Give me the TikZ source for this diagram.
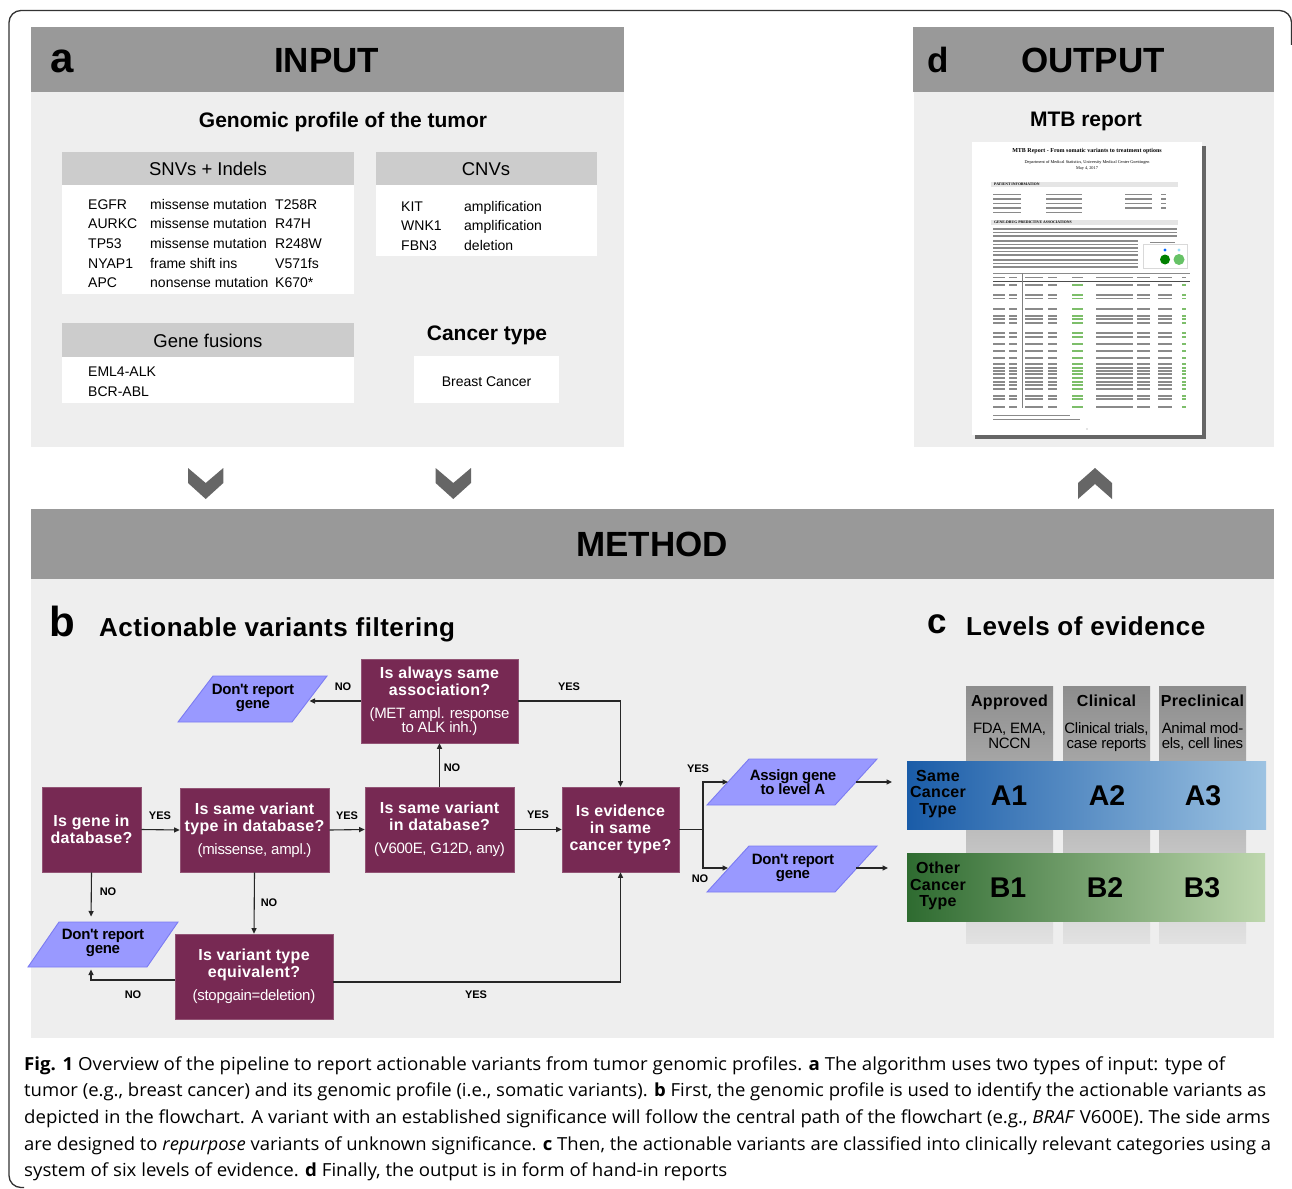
\documentclass[tikz,border=0pt]{standalone}
\usepackage{fontspec}
\usepackage{graphicx}
\setmainfont{Liberation Sans}
\newfontfamily\capfont{Open Sans}
\newfontfamily\thumbfont{Liberation Serif}
\newfontfamily\wfont[LetterSpace=2]{Liberation Sans}
\newfontfamily\tfont[LetterSpace=-2]{Liberation Sans}
\usetikzlibrary{arrows.meta}
\newcommand{\fsz}[1]{\fontsize{#1}{#1}\selectfont}
\newcommand{\pn}{\tfont\mdseries\fontsize{15}{17}\selectfont}
\definecolor{hdrg}{HTML}{999999}
\definecolor{bodyg}{HTML}{EEEEEE}
\definecolor{subh}{HTML}{CCCCCC}
\definecolor{qcol}{HTML}{772953}
\definecolor{pcol}{HTML}{9999FF}
\definecolor{pbd}{HTML}{7B7BF2}
\definecolor{chev}{HTML}{666666}
\definecolor{blueL}{HTML}{1A5CA8}
\definecolor{blueR}{HTML}{9DC3E2}
\definecolor{greenL}{HTML}{2E6B30}
\definecolor{greenR}{HTML}{BED7AE}
\definecolor{colT}{HTML}{8D8D8D}
\definecolor{colB}{HTML}{E2E2E2}
\definecolor{thumbtx}{HTML}{8A8A8A}
\definecolor{thumbgr}{HTML}{7DBE6A}
\begin{document}
\begin{tikzpicture}[x=1pt,y=-1pt,
  qbox/.style={fill=qcol, draw=qcol!80!white, line width=0.6, text=white, align=center, inner sep=0,
    font=\wfont\bfseries\fontsize{16}{17}\selectfont},
  ptext/.style={align=center, inner sep=0, text=black, font=\tfont\bfseries\fontsize{15}{14.5}\selectfont},
  para/.style={fill=pcol, draw=pbd, line width=0.9},
  conn/.style={draw=black!85, line width=1.1, -{Triangle[length=5.5pt,width=5pt]}},
  plain/.style={draw=black!85, line width=1.1},
  lbl/.style={font=\bfseries\fsz{11}, inner sep=0},
  tabtx/.style={font=\fsz{14}, anchor=base west, inner sep=0},
  colhd/.style={font=\wfont\bfseries\fsz{16}, anchor=base, inner sep=0},
  colsub/.style={font=\tfont\fontsize{15}{14.5}\selectfont, align=center, anchor=base, inner sep=0},
  band/.style={font=\wfont\bfseries\fontsize{16}{16.7}\selectfont, align=center, inner sep=0},
  lvl/.style={font=\bfseries\fsz{28.5}, anchor=base, inner sep=0},
  tl/.style={draw=thumbtx, line width=1.1},
  tg/.style={draw=thumbgr, line width=1.1},
  capline/.style={anchor=base west, inner sep=0, font=\capfont\fsz{18}}
]
\useasboundingbox (0,0) rectangle (1292,1188);
\fill[white] (0,0) rectangle (1292,1188);
% outer frame
\draw[line width=1.3, draw=black!80, rounded corners=12] (1291.5,45) -- (1291.5,10.5) -- (9,10.5) -- (9,1187.5) -- (24,1187.5);

% ---------------- panel a ----------------
\fill[hdrg] (31,27) rectangle (624,92);
\fill[bodyg] (31,92) rectangle (623.5,446.5);
\node[font=\bfseries\fsz{42}, anchor=base, inner sep=0] (alab) at (62,73) {a};
\node[font=\bfseries\fsz{35}, anchor=base, inner sep=0] (inp) at (326.5,73) {INPUT};
\node[font=\bfseries\fsz{21}, anchor=base, inner sep=0] (gp) at (343,128) {Genomic profile of the tumor};

\fill[subh] (62,152) rectangle (354,185);
\fill[white] (62,185) rectangle (354,294);
\node[font=\fsz{18.5}, anchor=base, inner sep=0] (snvh) at (208,175.5) {SNVs + Indels};
\foreach \g/\t/\p [count=\i] in {EGFR/missense mutation/T258R, AURKC/missense mutation/R47H,
   TP53/missense mutation/R248W, NYAP1/frame shift ins/V571fs, APC/nonsense mutation/K670*}{
  \node[tabtx] (snvg\i) at (88,{209+19.7*(\i-1)}) {\g};
  \node[tabtx] (snvt\i) at (150,{209+19.7*(\i-1)}) {\t};
  \node[tabtx] (snvp\i) at (275,{209+19.7*(\i-1)}) {\p};
}
\fill[subh] (375.5,152) rectangle (597,185);
\fill[white] (375.5,185) rectangle (597,256);
\node[font=\fsz{18.5}, anchor=base, inner sep=0] (cnvh) at (486,175.5) {CNVs};
\foreach \g/\t [count=\i] in {KIT/amplification, WNK1/amplification, FBN3/deletion}{
  \node[tabtx] (cnvg\i) at (401,{211+19.8*(\i-1)}) {\g};
  \node[tabtx] (cnvt\i) at (464,{211+19.8*(\i-1)}) {\t};
}
\fill[subh] (62,323) rectangle (354,357);
\fill[white] (62,357) rectangle (354,403);
\node[font=\fsz{18.5}, anchor=base, inner sep=0] (gfh) at (208,347) {Gene fusions};
\node[tabtx] (gf1) at (88,376) {EML4-ALK};
\node[tabtx] (gf2) at (88,396) {BCR-ABL};
\node[font=\bfseries\fsz{21}, anchor=base, inner sep=0] (cth) at (487,340) {Cancer type};
\fill[white] (413.5,356) rectangle (559,403);
\node[font=\fsz{14}, anchor=base, inner sep=0] (bc) at (486.5,386) {Breast Cancer};

% ---------------- panel d ----------------
\fill[hdrg] (913,27) rectangle (1274,92);
\fill[bodyg] (914,92) rectangle (1274,446.5);
\node[font=\bfseries\fsz{35}, anchor=base, inner sep=0] (dlab) at (938,73) {d};
\node[font=\bfseries\fsz{35}, anchor=base, inner sep=0] (outp) at (1093,73) {OUTPUT};
\node[font=\bfseries\fsz{21}, anchor=base, inner sep=0] (mtb) at (1086,126) {MTB report};
% report thumbnail
\fill[black!60] (975,145.5) rectangle (1206,439);
\fill[white] (972,142) rectangle (1202,435);
\node[font=\thumbfont\bfseries\fsz{6}, inner sep=0] (mtbt) at (1087,151) {MTB Report - From somatic variants to treatment options};
\node[font=\thumbfont\fsz{4.3}, inner sep=0] (mtbd) at (1087,162) {Department of Medical Statistics, University Medical Center Goettingen};
\node[font=\thumbfont\fsz{4.3}, inner sep=0] (mtbm) at (1087,169) {May 4, 2017};
\fill[black!10] (991,181.5) rectangle (1178,187);
\node[font=\thumbfont\bfseries\fsz{3.8}, anchor=west, inner sep=0] (mtbpi) at (994,184.3) {PATIENT INFORMATION};
\foreach \yy in {194.5,199,203.5,208,212.5}{
  \draw[tl] (993,\yy) -- (1021,\yy);
  \draw[tl] (1046,\yy) -- (1082,\yy);
}
\foreach \yy in {194.5,199,203.5,208}{
  \draw[tl] (1125,\yy) -- (1152,\yy);
  \draw[tl] (1161,\yy) -- (1166,\yy);
}
\fill[black!10] (991,219.5) rectangle (1178,225);
\node[font=\thumbfont\bfseries\fsz{3.8}, anchor=west, inner sep=0] (mtbgd) at (994,222.3) {GENE-DRUG PREDICTIVE ASSOCIATIONS};
\foreach \yy in {229,232.5,236}{ \draw[tl] (993,\yy) -- (1177,\yy); }
\foreach \yy in {241,244.5,248,251.5,255}{ \draw[tl] (993,\yy) -- (1138,\yy); }
\foreach \yy in {260,263.5,267}{ \draw[tl] (993,\yy) -- (1138,\yy); }
\draw[black!15, fill=white] (1143,244) rectangle (1187,268);
\draw[tl, line width=0.6] (1150,242) -- (1175,242);
\fill[blue!60!cyan] (1165,250) circle (1.6);
\fill[cyan!40] (1179,250) circle (1.6);
\fill[green!50!black] (1165,259.5) circle (5);
\fill[green!60!black!60] (1179,259.5) circle (5.5);
\draw[tl, line width=0.6] (993,273.5) -- (1190,273.5);
\foreach \xa/\xb in {993/1005,1009/1017,1025/1043,1048/1057,1072/1083,1096/1133,1137/1150,1158/1172,1182/1186}{
  \draw[tl, line width=0.9] (\xa,277) -- (\xb,277);
}
\draw[black!70, line width=0.6] (993,281) -- (1190,281);
\draw[black!50, line width=0.5] (1022,273) -- (1022,408);
\foreach \yy in {285,295,298.7,309,316,319,323,333,337,344,351,358,364,368,371,374,378,382,385,389,396,399,407}{
  \draw[tl] (993,\yy) -- (1005,\yy);
  \draw[tl] (1009,\yy) -- (1017,\yy);
  \draw[tl] (1025,\yy) -- (1043,\yy);
  \draw[tl] (1048,\yy) -- (1057,\yy);
  \draw[tg] (1072,\yy) -- (1083,\yy);
  \draw[tl] (1096,\yy) -- (1133,\yy);
  \draw[tl] (1137,\yy) -- (1150,\yy);
  \draw[tl] (1158,\yy) -- (1172,\yy);
  \draw[tg] (1182,\yy) -- (1186,\yy);
}
\draw[tl, line width=0.8] (993,415.5) -- (1070,415.5);
\draw[tl, line width=0.8] (993,419.5) -- (1080,419.5);
\fill[thumbtx] (1087,429) circle (0.7);

% ---------------- chevrons ----------------
\fill[chev] (188,468) -- (205.7,483) -- (223.3,468) -- (223.3,483) -- (205.7,499) -- (188,483) -- cycle;
\fill[chev] (435.6,468) -- (453.3,483) -- (471,468) -- (471,483) -- (453.3,499) -- (435.6,483) -- cycle;
\fill[chev] (1078,483) -- (1095,468) -- (1112,483) -- (1112,499) -- (1095,484) -- (1078,499) -- cycle;

% ---------------- METHOD ----------------
\fill[hdrg] (31,509) rectangle (1274,579);
\fill[bodyg] (31,579) rectangle (1274,1038);
\node[font=\bfseries\fsz{35}, anchor=base, inner sep=0] (meth) at (652,556.5) {METHOD};
\node[font=\bfseries\fsz{42}, anchor=base, inner sep=0] (blab) at (62,636) {b};
\node[font=\wfont\bfseries\fsz{26}, anchor=base west, inner sep=0] (btitle) at (99,636) {Actionable variants filtering};
\node[font=\bfseries\fsz{35}, anchor=base, inner sep=0] (clab) at (937,633) {c};
\node[font=\wfont\bfseries\fsz{26}, anchor=base west, inner sep=0] (ctitle) at (966,635) {Levels of evidence};

% ---------------- flowchart ----------------
\node[qbox, minimum width=99, minimum height=85] (b1) at (91.5,829.5) {Is gene in\\database?};
\node[qbox, minimum width=149, minimum height=84] (b2) at (254.5,830) {Is same variant\\type in database?\\[6pt]\pn(missense, ampl.)};
\node[qbox, minimum width=149, minimum height=85] (b3) at (439.5,829.5) {Is same variant\\in database?\\[6pt]\pn(V600E, G12D, any)};
\node[qbox, minimum width=157, minimum height=84] (b4) at (439.5,701) {Is always same\\association?\\[6pt]\pn(MET ampl. response\\[-3pt]\pn to ALK inh.)};
\node[qbox, minimum width=117, minimum height=85] (b5) at (620.5,829.5) {Is evidence\\in same\\cancer type?};
\node[qbox, minimum width=158, minimum height=85] (b6) at (254,976.5) {Is variant type\\equivalent?\\[6pt]\pn(stopgain=deletion)};

\path[para] (213,676) -- (327,676) -- (292,722) -- (178,722) -- cycle;
\node[ptext] (p1) at (253,698) {Don't report\\gene};
\coordinate (p1e) at (309.5,699);
\path[para] (59,922) -- (178,922) -- (147,967) -- (28,967) -- cycle;
\node[ptext] (p2) at (103,943) {Don't report\\gene};
\coordinate (p2n) at (91,922);
\coordinate (p2s) at (91,967);
\path[para] (749,759) -- (877,759) -- (835,805) -- (707,805) -- cycle;
\node[ptext] (p3) at (793,782) {Assign gene\\to level A};
\coordinate (p3w) at (728,782);
\coordinate (p3e) at (856,782);
\coordinate (p3o) at (892,782);
\path[para] (749,846) -- (877,846) -- (835,892) -- (707,892) -- cycle;
\node[ptext] (p4) at (793,868) {Don't report\\gene};
\coordinate (p4w) at (728,868);
\coordinate (p4e) at (856,868);
\coordinate (p4o) at (888,868);
\coordinate (fork) at (703,829.5);

\draw[conn] (b1.east) -- (b2.west);
\draw[conn] (b2.east) -- (b3.west);
\draw[conn] (b3.east) -- (b5.west);
\draw[conn] (b3.north) -- (b4.south);
\draw[conn] (b4.west) -- (b4.west -| p1e);
\draw[conn] (b4.east) -| (b5.north);
\draw[conn, shorten >=5.5pt] (b1.south) -- (p2n);
\draw[conn] (b2.south) -- (b6.north);
\draw[conn, shorten >=2.5pt] ([yshift=-3.5pt]b6.west) -| (p2s);
\draw[conn] ([yshift=-5.5pt]b6.east) -| (b5.south);
\draw[plain] (b5.east) -- (fork);
\draw[conn] (fork) |- (p3w);
\draw[conn] (fork) |- (p4w);
\draw[conn] (p3e) -- (p3o);
\draw[conn] (p4e) -- (p4o);

\node[lbl] (l1) at (160,816) {YES};
\node[lbl] (l2) at (347,816) {YES};
\node[lbl] (l3) at (538,815) {YES};
\node[lbl] (l4) at (452,768) {NO};
\node[lbl] (l5) at (343,687) {NO};
\node[lbl] (l6) at (569,687) {YES};
\node[lbl] (l7) at (108,892) {NO};
\node[lbl] (l8) at (269,903) {NO};
\node[lbl] (l9) at (133,995) {NO};
\node[lbl] (l10) at (476,995) {YES};
\node[lbl] (l11) at (698,769) {YES};
\node[lbl] (l12) at (700,879) {NO};

% ---------------- levels of evidence ----------------
\shade[top color=colT, bottom color=colB] (966,686) rectangle (1053,943);
\shade[top color=colT, bottom color=colB] (1063,686) rectangle (1150,943);
\shade[top color=colT, bottom color=colB] (1159,686) rectangle (1246,943);
\node[colhd] (c1h) at (1009.5,706) {Approved};
\node[colhd] (c2h) at (1106.5,706) {Clinical};
\node[colhd] (c3h) at (1202.5,706) {Preclinical};
\node[colsub] (c1s) at (1009.5,748) {FDA, EMA,\\NCCN};
\node[colsub] (c2s) at (1106.5,748) {Clinical trials,\\case reports};
\node[colsub] (c3s) at (1202.5,748) {Animal mod-\\els, cell lines};
\shade[left color=blueL, right color=blueR] (907,761) rectangle (1266,829);
\shade[left color=greenL, right color=greenR] (907,853) rectangle (1265,921);
\node[band] (same) at (938,794) {Same\\Cancer\\Type};
\node[band] (other) at (938,886) {Other\\Cancer\\Type};
\node[lvl] (a1) at (1009,805) {A1};
\node[lvl] (a2) at (1107,805) {A2};
\node[lvl] (a3) at (1203,805) {A3};
\node[lvl] (bb1) at (1008,897) {B1};
\node[lvl] (bb2) at (1105,897) {B2};
\node[lvl] (bb3) at (1202,897) {B3};

% ---------------- caption ----------------
\node[capline] (cap1) at (24,1070) {\resizebox{1201pt}{\height}{\textbf{Fig. 1} Overview of the pipeline to report actionable variants from tumor genomic profiles. \textbf{a} The algorithm uses two types of input: type of}};
\node[capline] (cap2) at (24,1096.7) {\resizebox{1242pt}{\height}{tumor (e.g., breast cancer) and its genomic profile (i.e., somatic variants). \textbf{b} First, the genomic profile is used to identify the actionable variants as}};
\node[capline] (cap3) at (24,1123.4) {\resizebox{1246pt}{\height}{depicted in the flowchart. A variant with an established significance will follow the central path of the flowchart (e.g., \textit{BRAF} V600E). The side arms}};
\node[capline] (cap4) at (24,1150.1) {\resizebox{1247pt}{\height}{are designed to \textit{repurpose} variants of unknown significance. \textbf{c} Then, the actionable variants are classified into clinically relevant categories using a}};
\node[capline] (cap5) at (24,1176.8) {\resizebox{703pt}{\height}{system of six levels of evidence. \textbf{d} Finally, the output is in form of hand-in reports}};
\end{tikzpicture}
\end{document}
